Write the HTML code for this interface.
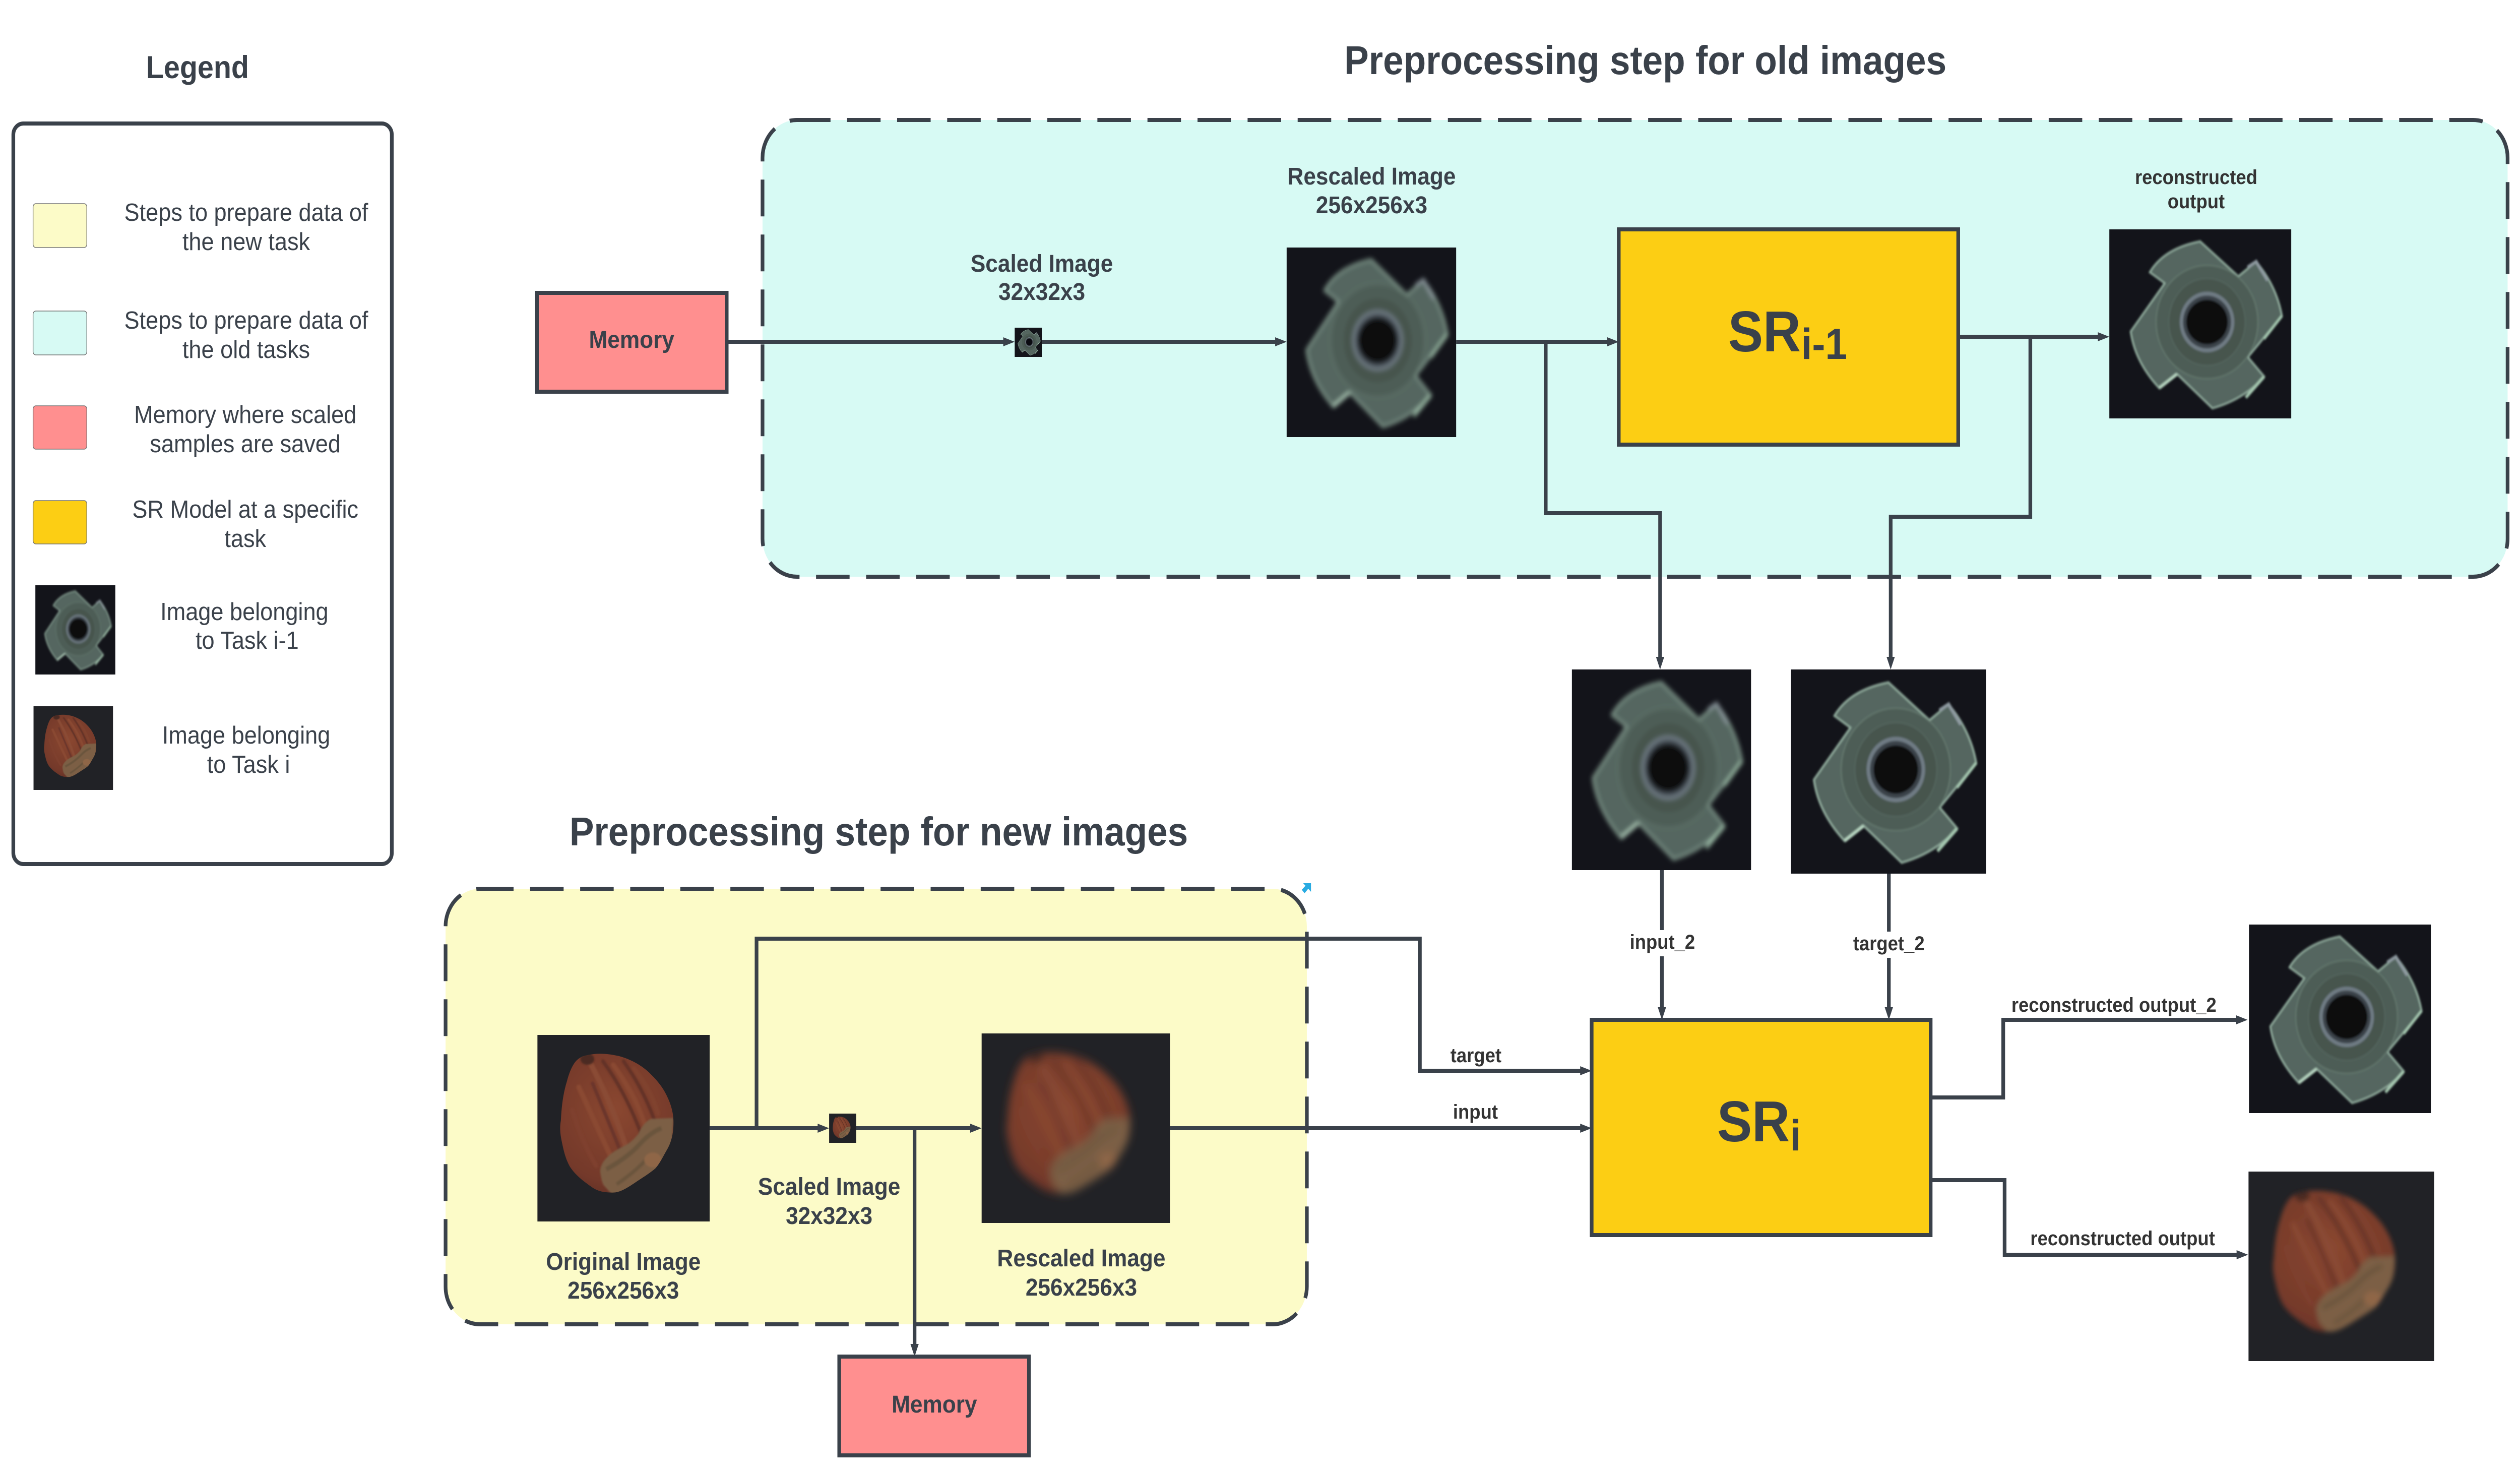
<!DOCTYPE html>
<html>
<head>
<meta charset="utf-8">
<style>
html,body{margin:0;padding:0;background:#fff;width:100%;height:100%;overflow:hidden}
svg{display:block;width:100vw;height:100vh}
text{font-family:"Liberation Sans",sans-serif;fill:#3a414a;text-anchor:middle}
.b{font-weight:700}
.lg{font-size:49.5px}
.cap{font-size:48.5px;font-weight:700}
.lab{font-size:40px;font-weight:700;fill:#333}
.ttl{font-size:80px;font-weight:700}
.ln{fill:none;stroke:#3a414a;stroke-width:8;stroke-linejoin:miter}
.ah{fill:#3a414a}
.sw{stroke:#777;stroke-width:1.5}
.box{stroke:#3a414a;stroke-width:8}
.nb{fill:#13141a}
.hb{fill:#212226}
</style>
</head>
<body>
<svg viewBox="0 0 5486 2916" preserveAspectRatio="none" xmlns="http://www.w3.org/2000/svg">
<defs>
<filter id="b2" x="-10%" y="-10%" width="120%" height="120%"><feGaussianBlur stdDeviation="2"/></filter>
<filter id="b5" x="-10%" y="-10%" width="120%" height="120%"><feGaussianBlur stdDeviation="5"/></filter>
<filter id="b9" x="-10%" y="-10%" width="120%" height="120%"><feGaussianBlur stdDeviation="9"/></filter>
<filter id="s1" x="-10%" y="-10%" width="120%" height="120%"><feGaussianBlur stdDeviation=".5"/></filter>
<radialGradient id="hz" cx="45%" cy="40%" r="60%"><stop offset="0" stop-color="#8a4730"/><stop offset=".65" stop-color="#74392a"/><stop offset="1" stop-color="#4e2820"/></radialGradient>
<clipPath id="hc"><path d="M28.6 10.9C35 9.5 41 10 47.2 11.3C54 13 60 16 64.9 20.2C69 24 72 27 74.6 31.7C77 36 79 41 79 46.8C79 52 78 57 75.5 61C73 65 71 69 68.4 71.6C64 75 60 77 56 79.6C52 82 48 84.5 43.7 84.5C39 84.5 35 84 31.3 81.4C26 78 22 75 18.9 70.7C16 66 15 61 14 56.6C13 52 13 49 13.6 45.9C14 38 15 31 17.2 24.6C18.5 20 20 17 21.6 14.9C23.5 12.5 26 11.3 28.6 10.9Z"/></clipPath>
<symbol id="nut" viewBox="0 0 100 100" preserveAspectRatio="none">
<path d="M49.9 6.3L70.9 24.8L80.7 17Q92 30 94.9 45.8L76.2 67.6L85.2 77.9Q74 90 56.7 94.7L37.2 76.6L27.4 84Q14 70 11.7 54L30.4 28.5L22.2 22.7Q30 10 49.9 6.3Z" fill="#556660" stroke="#90ab9c" stroke-width="1"/>
<ellipse cx="53.7" cy="49" rx="28" ry="30" fill="#4d5d56" stroke="#65796e" stroke-width=".6"/>
<ellipse cx="53.7" cy="49" rx="21" ry="23" fill="#46544e" stroke="#566860" stroke-width=".5"/>
<ellipse cx="53.7" cy="49" rx="15" ry="16" fill="#6f7b84"/>
<ellipse cx="53.7" cy="49" rx="13.2" ry="14" fill="#3b4248"/>
<ellipse cx="53.7" cy="49" rx="11.4" ry="11.8" fill="#0a0a10"/>
<path d="M27.4 84L37.2 76.6" stroke="#b6d4c0" stroke-width="1.6" fill="none"/>
<path d="M76 20L80.7 17L87 27" stroke="#8e9aa0" stroke-width="1.6" fill="none"/>
<path d="M85 78L75 89" stroke="#a5c8b0" stroke-width="1.6" fill="none"/>
<path d="M94.9 45.8L85 58" stroke="#a5c8b0" stroke-width="1.4" fill="none"/>
</symbol>
<symbol id="haz" viewBox="0 0 100 100" preserveAspectRatio="none">
<g clip-path="url(#hc)">
<rect width="100" height="100" fill="url(#hz)"/>
<g fill="none" stroke-linecap="round" filter="url(#s1)">
<path d="M30 14Q44 38 52 62" stroke="#8a4b36" stroke-width="3"/>
<path d="M38 14Q52 32 61 55" stroke="#643227" stroke-width="2"/>
<path d="M44 16Q58 34 63 50" stroke="#8a4a33" stroke-width="2.6"/>
<path d="M50 14Q62 30 68 46" stroke="#643227" stroke-width="2"/>
<path d="M56 18Q66 30 70 42" stroke="#80422d" stroke-width="2.4"/>
<path d="M24 28Q34 48 42 64" stroke="#8a4a33" stroke-width="2.8"/>
<path d="M20 40Q26 58 34 70" stroke="#7f412d" stroke-width="2.4"/>
<path d="M32 26Q42 48 48 62" stroke="#6a362b" stroke-width="2"/>
</g>
<g filter="url(#s1)">
<path d="M79 44.5L65.7 45C62 47 60 50 58.6 53C56 56 54 57.5 51.5 59C47 61 43 63 40 66C37 69 36 72 36.6 74.3C37 77 37.5 79 38.4 80.5L43.7 86L56 82L70 72L78 60Z" fill="#7b5f45"/>
<path d="M40 72Q52 66 60 58Q66 52 72 50" stroke="#6b553d" stroke-width="2.5" fill="none"/>
<path d="M46 80Q56 74 64 66" stroke="#6b553e" stroke-width="2" fill="none"/>
<ellipse cx="67" cy="67" rx="5" ry="4" fill="#8f6647"/>
<ellipse cx="29" cy="13" rx="4" ry="3" fill="#4b2a22"/>
</g>
</g>
</symbol>
</defs>

<rect width="5486" height="2916" fill="#fff"/>

<!-- panels -->
<rect x="1660" y="238" width="3799" height="906" rx="75" fill="#d7faf4" stroke="#3a414a" stroke-width="8" stroke-dasharray="73 36"/>
<rect x="970" y="1763" width="1875" height="864" rx="75" fill="#fcfbc8" stroke="#3a414a" stroke-width="8" stroke-dasharray="73 36"/>
<polygon points="2837,1752 2854,1752 2854,1769 2848,1763 2840,1772 2834,1765 2842,1757" fill="#29abe2"/>

<!-- legend -->
<text class="b" x="430" y="155" style="font-size:63px">Legend</text>
<rect x="29" y="245" width="824" height="1469" rx="22" fill="#fff" stroke="#3a414a" stroke-width="8"/>
<rect class="sw" x="72" y="404" width="117" height="87" rx="6" fill="#fcfbc8"/>
<rect class="sw" x="72" y="617" width="117" height="87" rx="6" fill="#d7faf4"/>
<rect class="sw" x="72" y="805" width="117" height="86" rx="6" fill="#ff8f8f"/>
<rect class="sw" x="72" y="993" width="117" height="86" rx="6" fill="#fcce14"/>
<text class="lg" x="536" y="438">Steps to prepare data of</text>
<text class="lg" x="536" y="496">the new task</text>
<text class="lg" x="536" y="652">Steps to prepare data of</text>
<text class="lg" x="536" y="710">the old tasks</text>
<text class="lg" x="534" y="839">Memory where scaled</text>
<text class="lg" x="534" y="897">samples are saved</text>
<text class="lg" x="534" y="1027">SR Model at a specific</text>
<text class="lg" x="534" y="1085">task</text>
<text class="lg" x="532" y="1230">Image belonging</text>
<text class="lg" x="538" y="1287">to Task i-1</text>
<text class="lg" x="536" y="1475">Image belonging</text>
<text class="lg" x="541" y="1533">to Task i</text>
<rect class="nb" x="77" y="1161" width="174" height="177"/>
<use href="#nut" x="77" y="1161" width="174" height="177" filter="url(#b2)"/>
<rect class="hb" x="73" y="1401" width="173" height="166"/>
<use href="#haz" x="73" y="1401" width="173" height="166"/>

<!-- titles -->
<text class="ttl" x="3582" y="147">Preprocessing step for old images</text>
<text class="ttl" x="1913" y="1677">Preprocessing step for new images</text>

<!-- connectors -->
<path class="ln" d="M1582 678H2190"/>
<path class="ln" d="M2268 678H2782"/>
<path class="ln" d="M3170 678H3505"/>
<path class="ln" d="M3365 678V1018H3614V1308"/>
<path class="ln" d="M4263 668H4573"/>
<path class="ln" d="M4420 668V1025H4116V1308"/>
<path class="ln" d="M3618 1726V2004"/>
<path class="ln" d="M4112 1733V2004"/>
<path class="ln" d="M1545 2238H1786"/>
<path class="ln" d="M1864 2238H2118"/>
<path class="ln" d="M2547 2238H3446"/>
<path class="ln" d="M1647 2238V1862H3091V2124H3446"/>
<path class="ln" d="M1991 2238V2672"/>
<path class="ln" d="M4203 2177H4361V2023H4872"/>
<path class="ln" d="M4203 2341H4364V2489H4874"/>

<g class="ah">
<polygon points="2209,678 2184,669 2184,687"/>
<polygon points="2801,678 2776,669 2776,687"/>
<polygon points="3524,678 3499,669 3499,687"/>
<polygon points="3614,1328 3605,1303 3623,1303"/>
<polygon points="4592,668 4567,659 4567,677"/>
<polygon points="4116,1328 4107,1303 4125,1303"/>
<polygon points="3618,2023 3609,1998 3627,1998"/>
<polygon points="4112,2023 4103,1998 4121,1998"/>
<polygon points="1805,2238 1780,2229 1780,2247"/>
<polygon points="2137,2238 2112,2229 2112,2247"/>
<polygon points="3465,2238 3440,2229 3440,2247"/>
<polygon points="3465,2124 3440,2115 3440,2133"/>
<polygon points="1991,2691 1982,2666 2000,2666"/>
<polygon points="4893,2023 4868,2014 4868,2032"/>
<polygon points="4894,2489 4869,2480 4869,2498"/>
</g>

<!-- memory boxes -->
<rect class="box" x="1169" y="581" width="413" height="196" fill="#ff8f8f"/>
<text class="cap" x="1375" y="690">Memory</text>
<rect class="box" x="1827" y="2691" width="413" height="196" fill="#ff8f8f"/>
<text class="cap" x="2034" y="2802">Memory</text>

<!-- SR boxes -->
<rect class="box" x="3524" y="455" width="739" height="427" fill="#fcce14"/>
<text x="3762" y="697" style="text-anchor:start;font-weight:700;font-size:114px">SR</text>
<text x="3921" y="712" style="text-anchor:start;font-weight:700;font-size:86px">i-1</text>
<rect class="box" x="3465" y="2023" width="738" height="427" fill="#fcce14"/>
<text x="3738" y="2264" style="text-anchor:start;font-weight:700;font-size:114px">SR</text>
<text x="3897" y="2282" style="text-anchor:start;font-weight:700;font-size:86px">i</text>

<!-- images -->
<rect class="nb" x="2209" y="650" width="59" height="58"/>
<use href="#nut" x="2209" y="650" width="59" height="58"/>
<rect class="nb" x="2801" y="491" width="369" height="376"/>
<use href="#nut" x="2801" y="491" width="369" height="376" filter="url(#b5)"/>
<rect class="nb" x="4592" y="455" width="396" height="375"/>
<use href="#nut" x="4592" y="455" width="396" height="375" filter="url(#b2)"/>
<rect class="nb" x="3422" y="1328" width="390" height="398"/>
<use href="#nut" x="3422" y="1328" width="390" height="398" filter="url(#b5)"/>
<rect class="nb" x="3899" y="1328" width="425" height="405"/>
<use href="#nut" x="3899" y="1328" width="425" height="405" filter="url(#b2)"/>
<rect class="nb" x="4896" y="1834" width="396" height="374"/>
<use href="#nut" x="4896" y="1834" width="396" height="374" filter="url(#b2)"/>
<rect class="hb" x="1170" y="2053" width="375" height="370"/>
<use href="#haz" x="1170" y="2053" width="375" height="370"/>
<rect class="hb" x="1805" y="2209" width="59" height="58"/>
<use href="#haz" x="1805" y="2209" width="59" height="58"/>
<rect class="hb" x="2137" y="2050" width="410" height="376"/>
<use href="#haz" x="2137" y="2050" width="410" height="376" filter="url(#b9)"/>
<rect class="hb" x="4895" y="2324" width="404" height="376"/>
<use href="#haz" x="4895" y="2324" width="404" height="376" filter="url(#b5)"/>

<!-- captions -->
<text class="cap" x="2268" y="539">Scaled Image</text>
<text class="cap" x="2268" y="595">32x32x3</text>
<text class="cap" x="2986" y="366">Rescaled Image</text>
<text class="cap" x="2986" y="423">256x256x3</text>
<text class="lab" x="4781" y="365">reconstructed</text>
<text class="lab" x="4781" y="413">output</text>
<text class="cap" x="1805" y="2370">Scaled Image</text>
<text class="cap" x="1805" y="2428">32x32x3</text>
<text class="cap" x="1357" y="2519">Original Image</text>
<text class="cap" x="1357" y="2576">256x256x3</text>
<text class="cap" x="2354" y="2512">Rescaled Image</text>
<text class="cap" x="2354" y="2570">256x256x3</text>

<!-- connector labels -->
<rect x="3530" y="1845" width="176" height="52" fill="#fff"/>
<text class="lab" x="3619" y="1882">input_2</text>
<rect x="4022" y="1848" width="180" height="52" fill="#fff"/>
<text class="lab" x="4112" y="1885">target_2</text>
<text class="lab" x="3213" y="2107">target</text>
<text class="lab" x="3212" y="2219">input</text>
<text class="lab" x="4602" y="2007">reconstructed output_2</text>
<text class="lab" x="4621" y="2470">reconstructed output</text>
</svg>
</body>
</html>
